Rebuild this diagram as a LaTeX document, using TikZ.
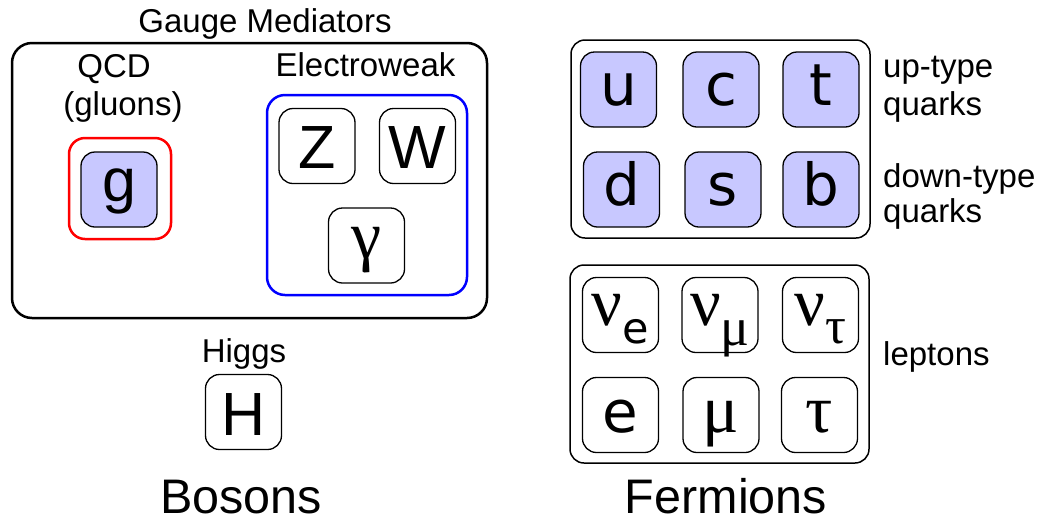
\documentclass[tikz,border=0pt]{standalone}
\usepackage{fontspec}
\setmainfont{Liberation Sans}
\newfontfamily\dv{DejaVu Sans}
\newfontfamily\gr{Liberation Serif}
\definecolor{qblue}{RGB}{200,200,255}
\definecolor{ewblue}{RGB}{0,0,255}
\definecolor{qcdred}{RGB}{255,0,0}
\tikzset{
  pbox/.style={draw, line width=1.3pt, rounded corners=14pt, minimum width=76pt, minimum height=75pt, inner sep=0pt, text depth=0pt},
  quark/.style={pbox, fill=qblue, font=\dv\fontsize{58}{58}\selectfont, text height=31pt},
  boson/.style={pbox, font=\fontsize{61}{61}\selectfont, text height=44pt},
  lep/.style={pbox, font=\gr\fontsize{68}{68}\selectfont, text height=34pt},
  grp/.style={draw, line width=1.5pt, rounded corners=14pt},
  lbl/.style={font=\fontsize{33}{33}\selectfont, anchor=base, inner sep=0pt},
  rlbl/.style={lbl, anchor=base west},
  big/.style={font=\fontsize{48.5}{48.5}\selectfont, anchor=base, inner sep=0pt, text depth=0pt}
}
\begin{document}
\begin{tikzpicture}[x=1pt,y=-1pt]
\useasboundingbox (0,0) rectangle (1044,523);
% group boxes
\draw[line width=2.5pt, rounded corners=20pt] (12,43) rectangle (487,318);
\draw[line width=2.5pt, rounded corners=16pt, qcdred] (69,138) rectangle (171,239);
\draw[line width=2.5pt, rounded corners=18pt, ewblue] (267,95) rectangle (467,295);
\draw[grp] (571,40) rectangle (870,238);
\draw[grp] (570,265) rectangle (869,463);
% labels
\node[lbl] (gauge) at (265,32) {Gauge Mediators};
\node[lbl] (qcd) at (114,77) {QCD};
\node[lbl] (gluons) at (123,115) {(gluons)};
\node[lbl] (ew) at (365.5,76) {Electroweak};
\node[lbl] (higgs) at (244,362) {Higgs};
\node[big] (bosons) at (241,513) {Bosons};
\node[big] (fermions) at (726,513) {Fermions};
\node[rlbl] (up1) at (883,77) {up-type};
\node[rlbl] (up2) at (883,115) {quarks};
\node[rlbl] (dn1) at (883,187) {down-type};
\node[rlbl] (dn2) at (883,222) {quarks};
\node[rlbl] (lept) at (883,365) {leptons};
% bosons
\node[boson, fill=qblue, text height=24pt] (g) at (119,189.5) {g};
\node[boson] (Z) at (317,146) {Z};
\node[boson] (W) at (417.5,146) {W};
\node[lep, text height=25pt] (gam) at (366.5,245.5) {γ};
\node[boson, text height=46pt] (H) at (243.5,412) {H};
% quarks
\node[quark] (u) at (618.5,89.5) {u};
\node[quark] (c) at (721,89.5) {c};
\node[quark] (t) at (821,89.5) {t};
\node[quark] (d) at (621.5,189.5) {d};
\node[quark] (s) at (723,189.5) {s};
\node[quark] (b) at (821,189.5) {b};
% leptons
\node[lep, text height=20pt] (ne) at (620.5,315) {ν\raisebox{-18pt}{\dv\fontsize{43}{43}\selectfont e}};
\node[lep, text height=20pt] (nm) at (720,315) {ν\raisebox{-20pt}{\fontsize{54}{54}\selectfont μ}};
\node[lep, text height=20pt] (nt) at (820.5,315) {ν\raisebox{-18pt}{\fontsize{52}{52}\selectfont τ}};
\node[lep, font=\dv\fontsize{58}{58}\selectfont] (e) at (620.5,415) {e};
\node[lep] (mu) at (721,415) {μ};
\node[lep] (tau) at (819.5,415) {τ};
\end{tikzpicture}
\end{document}
